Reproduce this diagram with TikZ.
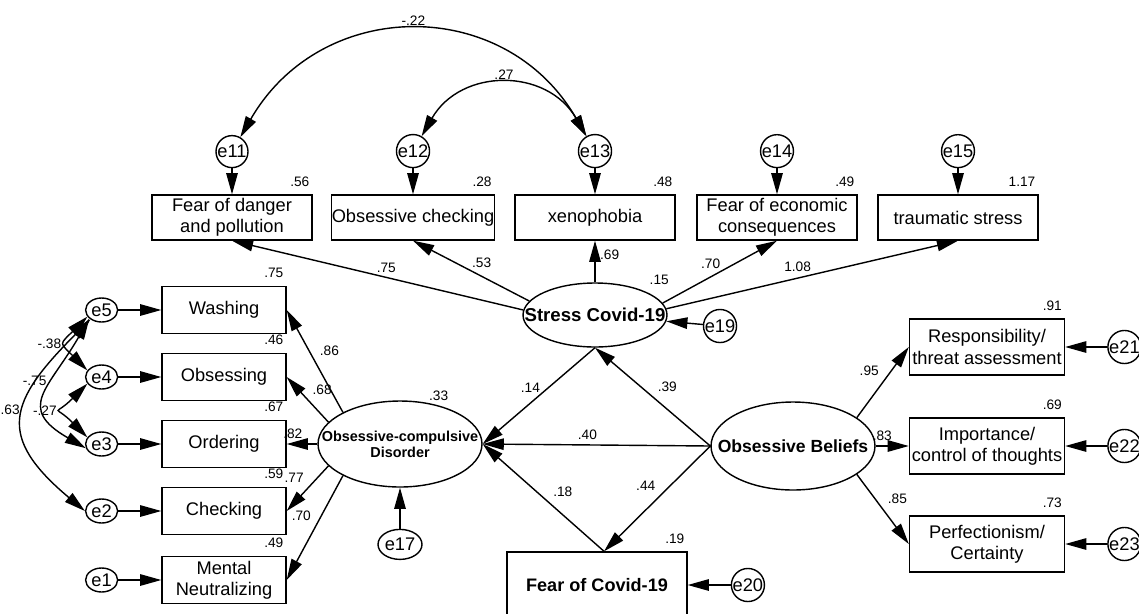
\documentclass[tikz,border=0pt]{standalone}
\usepackage{fontspec}
\setmainfont{Liberation Sans}
\usetikzlibrary{shapes.geometric,positioning,arrows.meta}

\begin{document}
\begin{tikzpicture}[x=0.02cm,y=-0.02cm,thick,font=\fontsize{10.4}{12}\selectfont,
  >={Triangle[length=12pt,width=6.5pt]},
  box/.style={draw,rectangle,align=center,inner xsep=0pt,inner ysep=1pt,minimum width=3.2cm,minimum height=0.9cm},
  lbox/.style={box,minimum width=2.48cm,minimum height=0.94cm},
  rbox/.style={box,minimum width=3.1cm,minimum height=1.12cm},
  err/.style={draw,circle,inner sep=0pt,minimum size=0.64cm},
  lerr/.style={draw,ellipse,inner sep=0pt,minimum width=0.64cm,minimum height=0.48cm},
  latent/.style={draw,ellipse,inner sep=0pt},
  lab/.style={font=\fontsize{7.8}{9}\selectfont,inner sep=2.5pt},
  r2/.style={lab,anchor=south east,inner xsep=1.5pt,inner ysep=4pt}]
\useasboundingbox (0,0) rectangle (1139,613);
\clip (0,0) rectangle (1139,613);

\node[latent,minimum width=2.88cm,minimum height=1.28cm,label={[font=\fontsize{10.6}{12}\selectfont\bfseries]center:Stress Covid-19},label={[r2,anchor=south west]north east:.15}] (stress) at (595,315) {};
\node[latent,minimum width=3.28cm,minimum height=1.72cm,label={[align=center,font=\fontsize{8.2}{9}\selectfont\bfseries]center:Obsessive-compulsive\\Disorder},label={[lab,anchor=south]45:.33}] (ocd) at (400,444) {};
\node[latent,minimum width=3.28cm,minimum height=1.76cm,label={[font=\fontsize{10}{12}\selectfont\bfseries]center:Obsessive Beliefs}] (ob) at (793,446) {};
\node[box,minimum width=3.6cm,minimum height=1.32cm,font=\fontsize{10.3}{12}\selectfont\bfseries,label={[r2]north east:.19}] (fear) at (597,585) {Fear of Covid-19};

\node[box,label={[r2]north east:.56}] (danger) at (232,217.5) {Fear of danger\\and pollution};
\node[box,label={[r2]north east:.28}] (checkob) at (413,217.5) {Obsessive checking};
\node[box,label={[r2]north east:.48}] (xeno) at (595,217.5) {xenophobia};
\node[box,label={[r2]north east:.49}] (econ) at (777,217.5) {Fear of economic\\consequences};
\node[box,label={[r2]north east:1.17}] (trauma) at (958,217.5) {traumatic stress};
\node[err,above=0.52cm of danger] (e11) {e11};
\node[err,above=0.52cm of checkob] (e12) {e12};
\node[err,above=0.52cm of xeno] (e13) {e13};
\node[err,above=0.52cm of econ] (e14) {e14};
\node[err,above=0.52cm of trauma] (e15) {e15};
\node[err] (e19) at (720,326) {e19};

\node[lbox,label={[r2]north east:.75}] (wash) at (224,310) {Washing};
\node[lbox,label={[r2]north east:.46}] (obsess) at (224,377) {Obsessing};
\node[lbox,label={[r2]north east:.67}] (order) at (224,444) {Ordering};
\node[lbox,label={[r2]north east:.59}] (check) at (224,511) {Checking};
\node[lbox,label={[r2]north east:.49}] (neutral) at (224,580) {Mental\\Neutralizing};
\node[lerr,left=0.86cm of wash] (e5) {e5};
\node[lerr,left=0.86cm of obsess] (e4) {e4};
\node[lerr,left=0.86cm of order] (e3) {e3};
\node[lerr,left=0.86cm of check] (e2) {e2};
\node[lerr,left=0.86cm of neutral] (e1) {e1};
\node[lerr,minimum width=0.88cm,minimum height=0.6cm,below=0.82cm of ocd] (e17) {e17};
\node[err,right=0.86cm of fear] (e20) {e20};

\node[rbox,label={[r2]north east:.91}] (resp) at (987,347) {Responsibility/\\threat assessment};
\node[rbox,label={[r2]north east:.69}] (imp) at (987,446) {Importance/\\control of thoughts};
\node[rbox,label={[r2]north east:.73}] (perf) at (987,544) {Perfectionism/\\Certainty};
\node[err,right=0.84cm of resp] (e21) {e21};
\node[err,right=0.84cm of imp] (e22) {e22};
\node[err,right=0.84cm of perf] (e23) {e23};

\draw[->] (e11) -- (danger);
\draw[->] (e12) -- (checkob);
\draw[->] (e13) -- (xeno);
\draw[->] (e14) -- (econ);
\draw[->] (e15) -- (trauma);
\draw[->] (e19) -- (stress);
\draw[->] (e5) -- (wash);
\draw[->] (e4) -- (obsess);
\draw[->] (e3) -- (order);
\draw[->] (e2) -- (check);
\draw[->] (e1) -- (neutral);
\draw[->] (e17) -- (ocd);
\draw[->] (e20) -- (fear);
\draw[->] (e21) -- (resp);
\draw[->] (e22) -- (imp);
\draw[->] (e23) -- (perf);

\draw[->] (stress.176) -- (danger.south) node[lab,pos=.47,above]{.75};
\draw[->] (stress.168) -- (checkob.south) node[lab,pos=.41,above=2pt]{.53};
\draw[->] (stress) -- (xeno) node[lab,pos=.65,right]{.69};
\draw[->] (stress.10) -- (econ.south) node[lab,pos=.42,above=2pt]{.70};
\draw[->] (stress.5) -- (trauma.south) node[lab,pos=.45,above=1pt]{1.08};
\draw[->] (stress.south) -- (ocd.east) node[lab,pos=.575,above=3pt]{.14};
\draw[->] (ob.west) -- (stress.south) node[lab,pos=.5,above right]{.39};
\draw[->] (ob.west) -- (ocd.east) node[lab,pos=.54,above]{.40};
\draw[->] ([xshift=4pt]fear.north) -- (ocd.east) node[lab,pos=.46,above right]{.18};
\draw[->] (ob.west) -- ([xshift=4pt]fear.north) node[lab,pos=.47,above left]{.44};
\draw[->] (ob.24) -- (resp.west) node[lab,pos=.52,above left]{.95};
\draw[->] (ob) -- (imp) node[lab,pos=.2,above]{.83};
\draw[->] (ob.-24) -- (perf.west) node[lab,pos=.5,above right]{.85};
\draw[->] (ocd.151) -- (wash.east) node[lab,pos=.5,above right]{.86};
\draw[->] (ocd.163) -- (obsess.east) node[lab,pos=.5,above right]{.68};
\draw[->] (ocd) -- (order) node[lab,pos=.8,above]{.82};
\draw[->] (ocd.197) -- (check.east) node[lab,pos=.47,above left]{.77};
\draw[->] (ocd.209) -- (neutral.east) node[lab,pos=.48,above left]{.70};

\draw[<->] (e11.60) to[out=60,in=120,looseness=1.2] node[lab,above]{-.22} (e13.120);
\draw[<->] (e12.60) to[out=60,in=120,looseness=1.23] node[lab,above]{.27} (e13.120);
\draw[<->] (e5.205) to[out=225,in=135,looseness=1.9] node[lab,left]{-.38} (e4.155);
\draw[<->] (e4.205) to[out=225,in=135,looseness=2.3] node[lab,left]{-.27} (e3.155);
\draw[<->] (e5.215) to[out=240,in=150,looseness=1.6] node[lab,pos=.38,left]{-.75} (e3.195);
\draw[<->] (e5.220) to[out=225,in=140,looseness=1.55] node[lab,pos=.45,left]{-.63} (e2.180);
\end{tikzpicture}
\end{document}
